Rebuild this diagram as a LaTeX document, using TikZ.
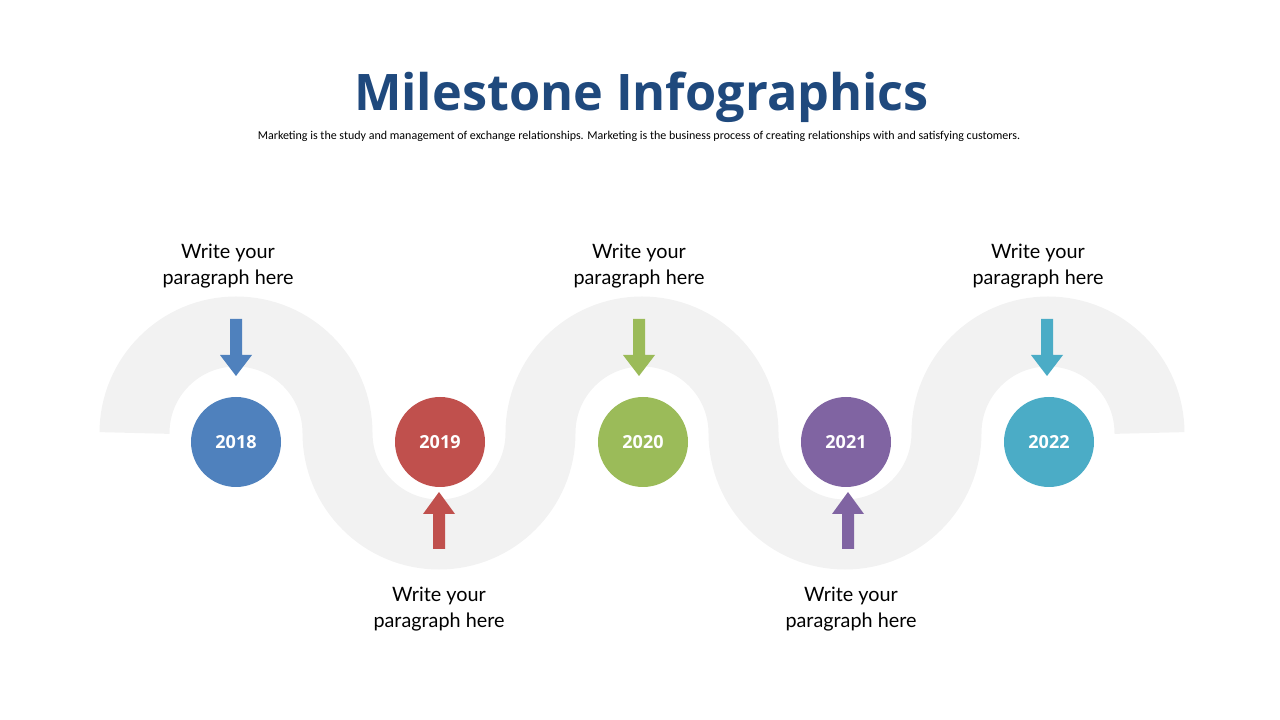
\documentclass[tikz,border=0pt]{standalone}
\usepackage{fontspec}
\setmainfont{Lato}
\newfontfamily\titlefont{Open Sans}
\newfontfamily\notefont{Carlito}
\usetikzlibrary{positioning}
\definecolor{titleblue}{RGB}{31,73,125}
\definecolor{bandgray}{RGB}{242,242,242}
\definecolor{mblue}{RGB}{79,129,189}
\definecolor{mred}{RGB}{192,80,77}
\definecolor{mgreen}{RGB}{155,187,89}
\definecolor{mpurple}{RGB}{128,100,162}
\definecolor{mteal}{RGB}{75,172,198}

\begin{document}
\begin{tikzpicture}[x=1pt,y=1pt,
    year/.style={circle,minimum size=90pt,inner sep=0pt,text=white,
        font=\titlefont\fontsize{18}{20}\selectfont\bfseries},
    para/.style={align=center,text=black,font=\fontsize{19.8}{26}\selectfont}]
        \useasboundingbox (0,0) rectangle (1280,720);
        % title and subtitle
        \node[text=titleblue,font=\titlefont\fontsize{50.4}{60}\selectfont\bfseries] (title) at (641.5,623) {Milestone Infographics};
        \node[font=\notefont\fontsize{12}{14}\selectfont] (note) at (639,584) {Marketing is the study and management of exchange relationships. Marketing is the  business process of creating relationships with and satisfying customers.};
        % wave band
        \draw[bandgray,line width=70pt] (134.5,287)
            arc[start angle=180,end angle=0,radius=101.5]
            arc[start angle=180,end angle=360,radius=101.5]
            arc[start angle=180,end angle=0,radius=101.5]
            arc[start angle=180,end angle=360,radius=101.5]
            arc[start angle=180,end angle=0,radius=101.5];
        % milestones
        \node[year,fill=mblue] (y2018) at (236,278) {2018};
        \node[year,fill=mred] (y2019) at (440,278) {2019};
        \node[year,fill=mgreen] (y2020) at (643,278) {2020};
        \node[year,fill=mpurple] (y2021) at (846,278) {2021};
        \node[year,fill=mteal] (y2022) at (1049,278) {2022};
        % arrows
        \fill[mblue] (230,401)--(242,401)--(242,365)--(252,365)--(236,344)--(220,365)--(230,365)--cycle;
        \fill[mgreen] (633,401)--(645,401)--(645,365)--(655,365)--(639,344)--(623,365)--(633,365)--cycle;
        \fill[mteal] (1041,401)--(1053,401)--(1053,365)--(1063,365)--(1047,344)--(1031,365)--(1041,365)--cycle;
        \fill[mred] (433,171)--(445,171)--(445,206)--(455,206)--(439,228)--(423,206)--(433,206)--cycle;
        \fill[mpurple] (842,171)--(854,171)--(854,206)--(864,206)--(848,228)--(832,206)--(842,206)--cycle;
        % texts
        \node[para] (t2018) at (228,454) {Write your\\paragraph here};
        \node[para] (t2020) at (639,454) {Write your\\paragraph here};
        \node[para] (t2022) at (1038,454) {Write your\\paragraph here};
        \node[para] (t2019) at (439,111) {Write your\\paragraph here};
        \node[para] (t2021) at (851,111) {Write your\\paragraph here};
    \end{tikzpicture}
\end{document}
